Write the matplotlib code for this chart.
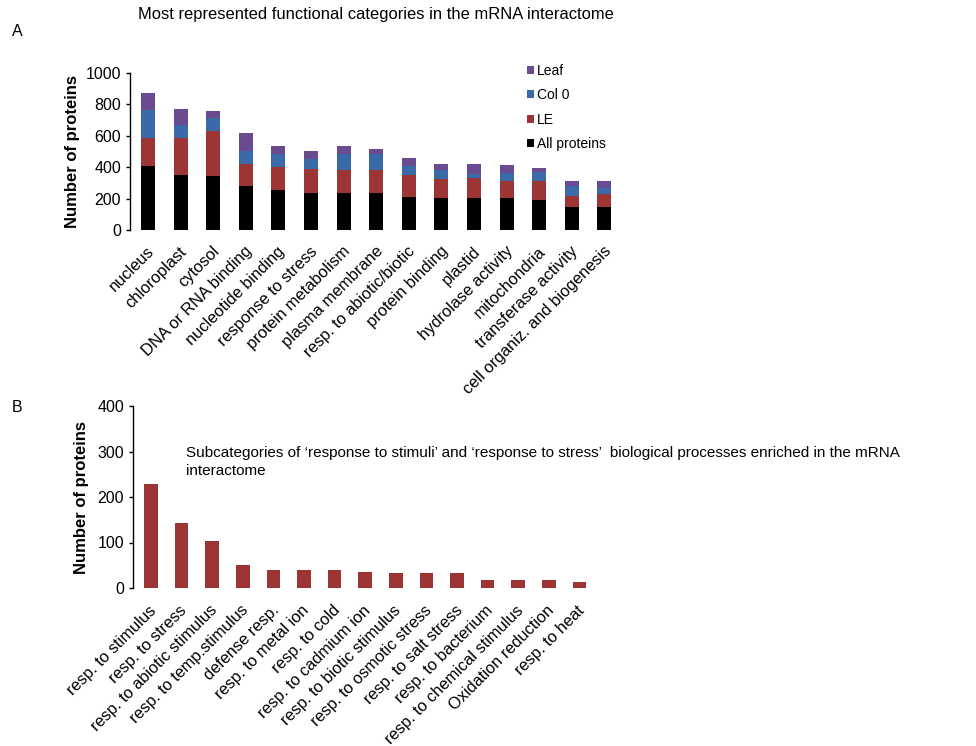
# Recreation of the mRNA interactome functional category figure (panels A and B).
import numpy as np
import matplotlib
matplotlib.use('Agg')
import matplotlib.pyplot as plt
import matplotlib.transforms as mtransforms

plt.rcParams['font.family'] = ['Liberation Sans', 'DejaVu Sans']

# Panel A data: stacked segments per category
categories = ['nucleus', 'chloroplast', 'cytosol', 'DNA or RNA binding', 'nucleotide binding',
              'response to stress', 'protein metabolism', 'plasma membrane',
              'resp. to abiotic/biotic', 'protein binding', 'plastid', 'hydrolase activity',
              'mitochondria', 'transferase activity', 'cell organiz. and biogenesis']
all_proteins = [405, 353, 342, 283, 255, 236, 236, 236, 209, 202, 202, 202, 194, 147, 147]
le = [178, 230, 288, 140, 149, 153, 143, 143, 142, 124, 132, 107, 115, 72, 81]
col0 = [179, 85, 81, 83, 77, 64, 102, 106, 58, 57, 23, 53, 59, 64, 42]
leaf = [108, 100, 46, 113, 57, 53, 57, 34, 48, 38, 64, 51, 26, 26, 39]

# Panel B data
subcategories = ['resp. to stimulus', 'resp. to stress', 'resp. to abiotic stimulus',
                 'resp. to temp.stimulus', 'defense resp.', 'resp. to metal ion', 'resp. to cold',
                 'resp. to cadmium ion', 'resp. to biotic stimulus', 'resp. to osmotic stress',
                 'resp. to salt stress', 'resp. to bacterium', 'resp. to chemical stimulus',
                 'Oxidation reduction', 'resp. to heat']
sub_counts = [229, 143, 103, 51, 39, 39, 39, 35, 32, 32, 32, 18, 18, 18, 14]

ColBlack = '#000000'
ColRed = '#9e3535'
ColBlue = '#3a6aa8'
ColPurple = '#6b4b8f'
LabelSize = 11.8

W, H = 976, 746
fig = plt.figure(figsize=(W / 100, H / 100), dpi=100)

def ax_rect(x0, x1, ytop, ybot):
    return [x0 / W, 1 - ybot / H, (x1 - x0) / W, (ybot - ytop) / H]

def style_axis(ax, dx, dy):
    for s in ['top', 'right', 'bottom']:
        ax.spines[s].set_visible(False)
    ax.spines['left'].set_linewidth(1.0)
    ax.tick_params(axis='x', length=0, labelsize=LabelSize, pad=0)
    ax.tick_params(axis='y', length=3, width=1.0, labelsize=11.5)
    # shift the rotated category labels a little (pixels)
    off = mtransforms.ScaledTranslation(dx / 100, -dy / 100, fig.dpi_scale_trans)
    for lab in ax.get_xticklabels():
        lab.set_transform(lab.get_transform() + off)

# ---------------- Panel A ----------------
axA = fig.add_axes(ax_rect(130, 640, 73, 230))
x = np.arange(len(categories))
spacingA = 32.6
bw = 0.43
b0 = np.array(all_proteins)
b1 = b0 + np.array(le)
b2 = b1 + np.array(col0)
hA = axA.bar(x, all_proteins, bw, color=ColBlack, label='All proteins')
hB = axA.bar(x, le, bw, bottom=b0, color=ColRed, label='LE')
hC = axA.bar(x, col0, bw, bottom=b1, color=ColBlue, label='Col 0')
hD = axA.bar(x, leaf, bw, bottom=b2, color=ColPurple, label='Leaf')
leftA = (148 - 130) / spacingA
axA.set_xlim(-leftA, -leftA + (640 - 130) / spacingA)
axA.set_ylim(0, 1000)
axA.set_yticks([0, 200, 400, 600, 800, 1000])
axA.set_xticks(x)
axA.set_xticklabels(categories, rotation=45, ha='right', va='center', rotation_mode='anchor')
style_axis(axA, 4, 19)
axA.set_ylabel('Number of proteins', fontsize=12, fontweight='bold', labelpad=4)
axA.legend([hD, hC, hB, hA], ['Leaf', 'Col 0', 'LE', 'All proteins'],
           loc='upper left', bbox_to_anchor=(520 / W, 1 - 57 / H),
           bbox_transform=fig.transFigure, frameon=False, fontsize=10,
           handlelength=0.5, handleheight=0.5, handletextpad=0.2,
           labelspacing=0.75, borderpad=0)

fig.text(138 / W, 1 - 15 / H, 'Most represented functional categories in the mRNA interactome',
         fontsize=11.9, va='center', ha='left')
fig.text(12 / W, 1 - 31 / H, 'A', fontsize=11.5, va='center', ha='left')

# ---------------- Panel B ----------------
axB = fig.add_axes(ax_rect(133, 640, 406, 588))
xb = np.arange(len(subcategories))
spacingB = 30.6
axB.bar(xb, sub_counts, 0.44, color=ColRed)
leftB = (151 - 133) / spacingB
axB.set_xlim(-leftB, -leftB + (640 - 133) / spacingB)
axB.set_ylim(0, 400)
axB.set_yticks([0, 100, 200, 300, 400])
axB.set_xticks(xb)
axB.set_xticklabels(subcategories, rotation=45, ha='right', va='center', rotation_mode='anchor')
style_axis(axB, 3, 20)
axB.set_ylabel('Number of proteins', fontsize=12, fontweight='bold', labelpad=6)

fig.text(186 / W, 1 - 453 / H,
         'Subcategories of \u2018response to stimuli\u2019 and \u2018response to stress\u2019  '
         'biological processes enriched in the mRNA', fontsize=11, va='center', ha='left')
fig.text(186 / W, 1 - 471 / H, 'interactome', fontsize=11, va='center', ha='left')
fig.text(12 / W, 1 - 407 / H, 'B', fontsize=11.5, va='center', ha='left')

fig.savefig('out.png', dpi=100)
